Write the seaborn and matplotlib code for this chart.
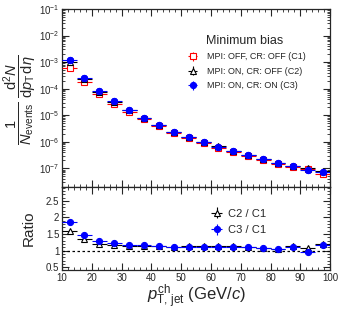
import numpy as np
import pandas as pd
import matplotlib
matplotlib.use("Agg")
import matplotlib.pyplot as plt
import seaborn as sns
from matplotlib.ticker import LogLocator, MultipleLocator, NullFormatter

# jet pT bins (GeV/c), 5 GeV wide
pt_centers = [12.5, 17.5, 22.5, 27.5, 32.5, 37.5, 42.5, 47.5, 52.5,
              57.5, 62.5, 67.5, 72.5, 77.5, 82.5, 87.5, 92.5, 97.5]
pt_halfwidth = 2.5

# C3 spectrum (MPI on, CR on)
spec_c3 = [1.17e-3, 2.6e-4, 8.3e-5, 3.3e-5, 1.55e-5, 8.0e-6, 4.3e-6, 2.4e-6, 1.5e-6,
           9.8e-7, 6.6e-7, 4.4e-7, 3.1e-7, 2.2e-7, 1.58e-7, 1.2e-7, 8.9e-8, 7.5e-8]
# ratios to C1
ratio_c2 = [1.58, 1.34, 1.21, 1.18, 1.15, 1.15, 1.14, 1.12, 1.13,
            1.14, 1.13, 1.15, 1.11, 1.07, 1.05, 1.14, 1.08, 1.21]
ratio_c3 = [1.87, 1.47, 1.29, 1.22, 1.165, 1.155, 1.14, 1.11, 1.12,
            1.11, 1.12, 1.11, 1.10, 1.07, 1.05, 1.11, 0.97, 1.18]
# stat. uncertainty on ratios
ratio_err = [0.03, 0.02, 0.02, 0.02, 0.02, 0.02, 0.02, 0.02, 0.02,
             0.02, 0.02, 0.02, 0.02, 0.02, 0.02, 0.03, 0.03, 0.04]

spec_c1 = [c3 / r for c3, r in zip(spec_c3, ratio_c3)]
spec_c2 = [c1 * r for c1, r in zip(spec_c1, ratio_c2)]

df = pd.DataFrame({"pt": pt_centers, "C1": spec_c1, "C2": spec_c2, "C3": spec_c3,
                   "C2 / C1": ratio_c2, "C3 / C1": ratio_c3})

sns.set_style("ticks")
plt.rcParams["font.family"] = ["Liberation Sans", "DejaVu Sans"]
plt.rcParams["mathtext.fontset"] = "custom"
plt.rcParams["mathtext.rm"] = "Liberation Sans"
plt.rcParams["mathtext.it"] = "Liberation Sans:italic"

fig = plt.figure(figsize=(3.55, 3.12), dpi=100)
ax1 = fig.add_axes([0.175, 0.401, 0.755, 0.570])
ax2 = fig.add_axes([0.175, 0.135, 0.755, 0.266], sharex=ax1)

styles = {
    "C1": dict(color="red", marker="s", mfc="white", label="MPI: OFF, CR: OFF (C1)"),
    "C2": dict(color="black", marker="^", mfc="white", label="MPI: ON, CR: OFF (C2)"),
    "C3": dict(color="blue", marker="o", mfc="blue", label="MPI: ON, CR: ON (C3)"),
}

handles = []
for key in ["C1", "C2", "C3"]:
    st = styles[key]
    h = ax1.errorbar(df["pt"], df[key], xerr=pt_halfwidth, yerr=df[key] * 0.03,
                     fmt=st["marker"], color=st["color"], mfc=st["mfc"], mec=st["color"],
                     ms=4.4, mew=0.8, lw=0.8, elinewidth=0.8, capsize=0,
                     label=st["label"], zorder=3)
    handles.append(h)
# C3 markers on top with seaborn
sns.scatterplot(data=df, x="pt", y="C3", ax=ax1, color="blue", marker="o", s=22,
                edgecolor="blue", linewidth=0.5, zorder=5, legend=False)

ax1.set_yscale("log")
ax1.set_ylim(2e-8, 1e-1)
ax1.set_xlim(10, 100)
ax1.set_yticks([1e-7, 1e-6, 1e-5, 1e-4, 1e-3, 1e-2, 1e-1])
ax1.yaxis.set_minor_locator(LogLocator(base=10, subs=np.arange(2, 10), numticks=12))
ax1.yaxis.set_minor_formatter(NullFormatter())
ax1.set_ylabel(r"$\dfrac{1}{N_{\rm events}}\ \dfrac{{\rm d}^2N}{{\rm d}p_{\rm T}\,{\rm d}\eta}$",
               fontsize=10.5)
ax1.yaxis.set_label_coords(-0.085, 0.49)
ax1.tick_params(labelbottom=False)
ax1.legend(handles=handles, title="Minimum bias", loc="upper right",
           bbox_to_anchor=(0.94, 0.90), frameon=False, fontsize=6.5,
           title_fontsize=9, handlelength=2.2, labelspacing=0.6, handletextpad=0.5)

rstyles = {"C2 / C1": ("black", "^", "white"), "C3 / C1": ("blue", "o", "blue")}
rhandles = []
for key, (c, m, mfc) in rstyles.items():
    h = ax2.errorbar(df["pt"], df[key], xerr=pt_halfwidth, yerr=ratio_err,
                     fmt=m, color=c, mfc=mfc, mec=c, ms=4.4, mew=0.8, lw=0.8,
                     elinewidth=0.8, capsize=0, label=key, zorder=3)
    rhandles.append(h)
ax2.axhline(1.0, color="black", ls=(0, (2, 2)), lw=0.9, zorder=1)
ax2.set_ylim(0.42, 2.92)
ax2.yaxis.set_minor_locator(MultipleLocator(0.1))
ax2.set_yticks([0.5, 1, 1.5, 2, 2.5])
ax2.set_yticklabels(["0.5", "1", "1.5", "2", "2.5"])
ax2.xaxis.set_major_locator(MultipleLocator(10))
ax2.xaxis.set_minor_locator(MultipleLocator(2))
ax2.set_ylabel("Ratio", fontsize=11)
ax2.yaxis.set_label_coords(-0.1, 0.5)
ax2.set_xlabel(r"$p_{\rm T,\,jet}^{\rm ch}$ (GeV/$c$)", fontsize=12, labelpad=0)
ax2.legend(handles=rhandles, loc="upper right", bbox_to_anchor=(0.80, 0.86),
           frameon=False, fontsize=8, handlelength=1.5, labelspacing=0.6,
           handletextpad=0.3)

for ax in (ax1, ax2):
    ax.tick_params(which="both", direction="in", top=True, right=True, labelsize=7)
    ax.tick_params(which="major", length=5, width=0.8, pad=2)
    ax.tick_params(which="minor", length=2.5, width=0.6)
    for sp in ax.spines.values():
        sp.set_linewidth(0.9)
ax1.xaxis.set_minor_locator(MultipleLocator(2))
ax1.xaxis.set_major_locator(MultipleLocator(10))

fig.savefig("out.png", dpi=100)
